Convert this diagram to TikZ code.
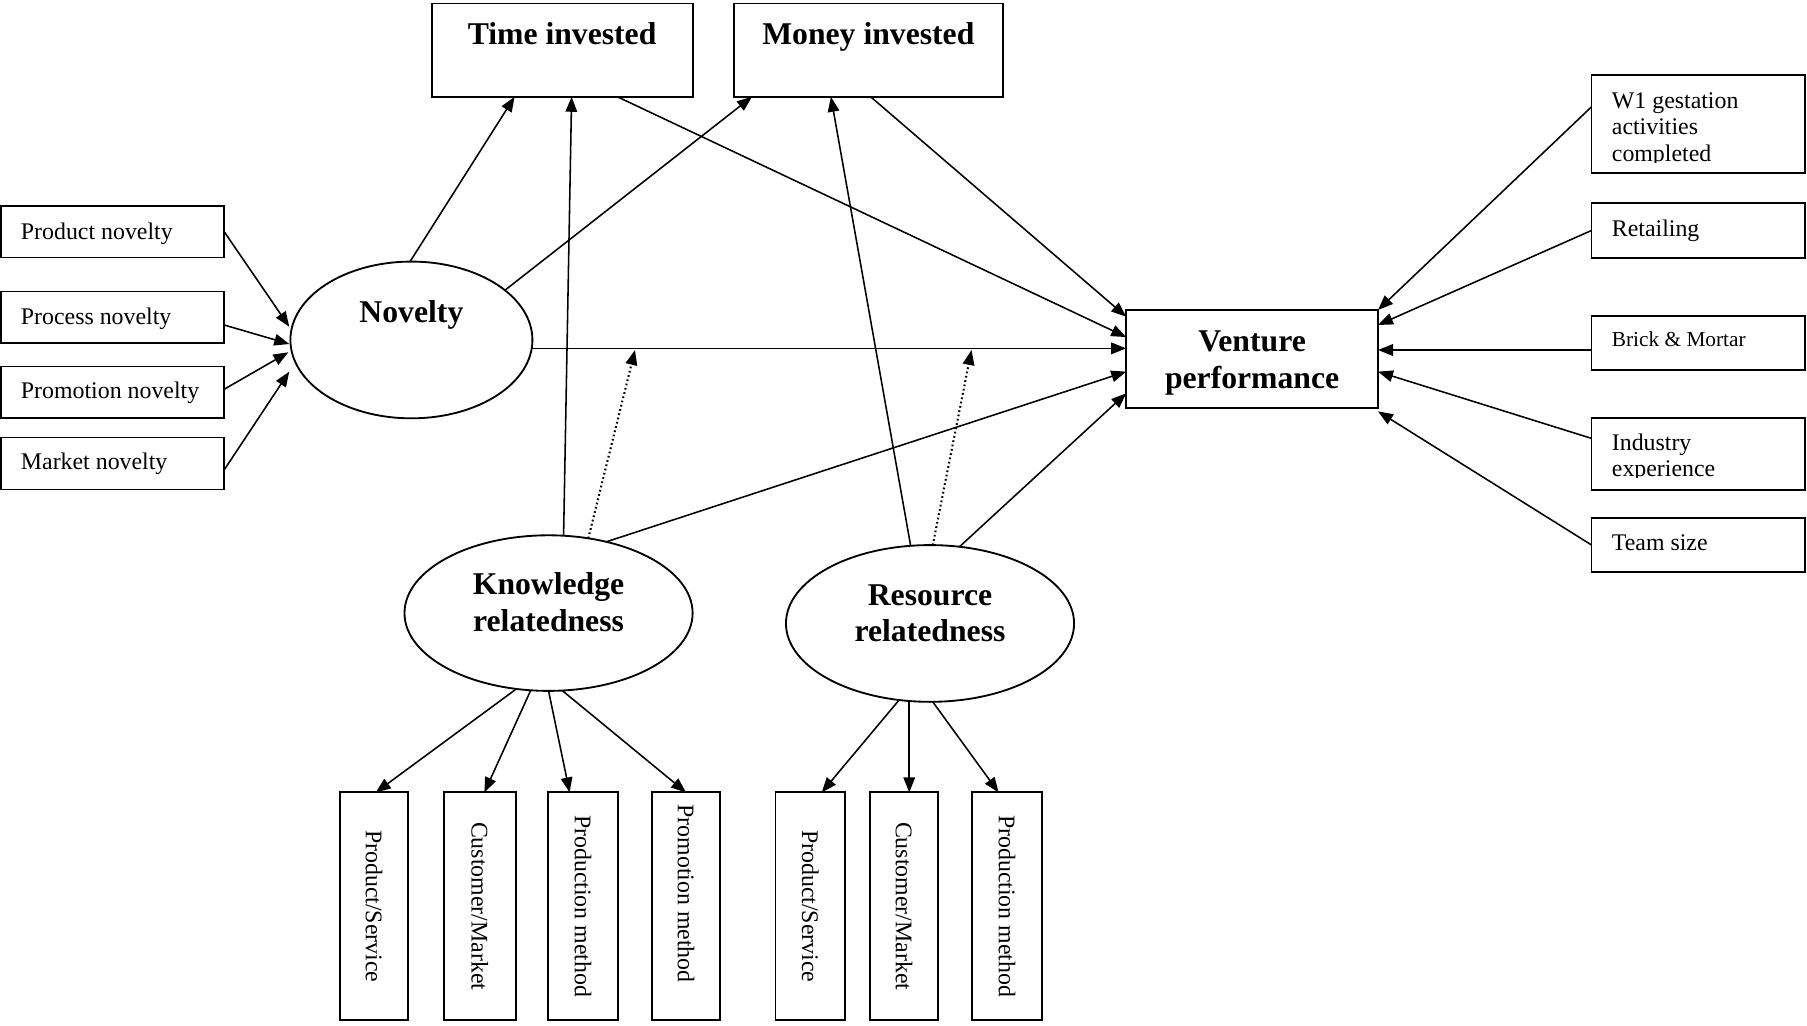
\documentclass[tikz,border=0pt]{standalone}
\usepackage{fontspec}
\setmainfont{Liberation Serif}
\usetikzlibrary{arrows.meta,calc,shapes.geometric}
\begin{document}
\begin{tikzpicture}[x=1pt,y=-1pt,
  every node/.style={inner sep=0pt, outer sep=0pt},
  box/.style={draw, line width=1.6pt, rectangle},
  oval/.style={draw, line width=1.6pt, ellipse},
  lbl/.style={font=\fontsize{20.7}{23.5}\selectfont, anchor=base west},
  small/.style={font=\fontsize{18.5}{21}\selectfont, anchor=base west},
  hd/.style={font=\bfseries\fontsize{27.5}{32}\selectfont, anchor=base},
  vlbl/.style={font=\fontsize{20.7}{23.5}\selectfont, rotate=-90},
  link/.style={line width=1.35pt, -{Triangle[length=13pt,width=10pt]}},
  moder/.style={link, line width=1.8pt, dash pattern=on 1.5pt off 2.3pt},
]
\useasboundingbox (0,0) rectangle (1568,890);

% ---- novelty indicators
\node[box, minimum width=193.8pt, minimum height=45pt] (prod) at (97.6,201) {};
\node[box, minimum width=193.8pt, minimum height=45pt] (proc) at (97.6,275.5) {};
\node[box, minimum width=193.8pt, minimum height=45pt] (prom) at (97.6,340.5) {};
\node[box, minimum width=193.8pt, minimum height=45pt] (mark) at (97.6,402.2) {};
\node[lbl] (prodT) at ($(prod.west)+(17.5,6.7)$) {Product novelty};
\node[lbl] (procT) at ($(proc.west)+(17.5,6.5)$) {Process novelty};
\node[lbl] (promT) at ($(prom.west)+(17.5,5.2)$) {Promotion novelty};
\node[lbl] (markT) at ($(mark.west)+(17.5,5.1)$) {Market novelty};

% ---- latent constructs
\node[oval, minimum width=210pt, minimum height=136pt] (nov) at (357,295) {};
\node[hd] (novT) at (357,280) {Novelty};
\node[oval, minimum width=250pt, minimum height=135pt] (know) at (476,532) {};
\node[hd] (knowT1) at (476,516) {Knowledge};
\node[hd] (knowT2) at (476,548) {relatedness};
\node[oval, minimum width=250pt, minimum height=136pt] (res) at (807,541) {};
\node[hd] (resT1) at (807,525) {Resource};
\node[hd] (resT2) at (807,557) {relatedness};

% ---- mediators and outcome
\node[box, minimum width=226.5pt, minimum height=81pt] (tinv) at (487.75,43.5) {};
\node[hd] (tinvT) at (487.75,39) {Time invested};
\node[box, minimum width=233pt, minimum height=81pt] (minv) at (753.5,43.5) {};
\node[hd] (minvT) at (753.5,39) {Money invested};
\node[box, minimum width=218.5pt, minimum height=85pt] (ven) at (1086.5,311.5) {};
\node[hd] (venT1) at (1086.5,305) {Venture};
\node[hd] (venT2) at (1086.5,337) {performance};

% ---- controls
\node[box, minimum width=185.5pt, minimum height=85.4pt] (w1) at (1473.75,107.7) {};
\node[box, minimum width=185.5pt, minimum height=47.2pt] (ret) at (1473.75,200) {};
\node[box, minimum width=185.5pt, minimum height=46.8pt] (brick) at (1473.75,297.6) {};
\node[box, minimum width=185.5pt, minimum height=62.2pt] (ind) at (1473.75,394.1) {};
\node[box, minimum width=185.5pt, minimum height=46.2pt] (team) at (1473.75,472.9) {};
\begin{scope}
  \clip ($(w1.north west)+(1,1)$) rectangle ($(w1.south east)+(-1,-9.5)$);
  \node[lbl] (w1T1) at ($(w1.west)+(17.7,-13.7)$) {W1 gestation};
  \node[lbl] (w1T2) at ($(w1.west)+(17.7,9.3)$) {activities};
  \node[lbl] (w1T3) at ($(w1.west)+(17.7,32.5)$) {completed};
\end{scope}
\node[lbl] (retT) at ($(ret.west)+(17.7,5.4)$) {Retailing};
\node[small] (brickT) at ($(brick.west)+(17.7,3.2)$) {Brick \& Mortar};
\begin{scope}
  \clip ($(ind.north west)+(1,1)$) rectangle ($(ind.south east)+(-1,-10.5)$);
  \node[lbl] (indT1) at ($(ind.west)+(17.7,-3.6)$) {Industry};
  \node[lbl] (indT2) at ($(ind.west)+(17.7,19.8)$) {experience};
\end{scope}
\node[lbl] (teamT) at ($(team.west)+(17.7,4.4)$) {Team size};

% ---- relatedness indicators
\node[box, minimum width=59.3pt, minimum height=197.5pt] (k1) at (324.55,786.35) {};
\node[box, minimum width=62.6pt, minimum height=197.5pt] (k2) at (416.3,786.35) {};
\node[box, minimum width=61pt, minimum height=197.5pt] (k3) at (506,786.35) {};
\node[box, minimum width=59.4pt, minimum height=197.5pt] (k4) at (595.3,786.35) {};
\node[box, minimum width=60.5pt, minimum height=197.5pt] (r1) at (703.15,786.35) {};
\node[box, minimum width=59.3pt, minimum height=197.5pt] (r2) at (784.45,786.35) {};
\node[box, minimum width=60.6pt, minimum height=197.5pt] (r3) at (873.9,786.35) {};
\node[vlbl] (k1T) at (k1.center) {Product/Service};
\node[vlbl] (k2T) at (k2.center) {Customer/Market};
\node[vlbl] (k3T) at (k3.center) {Production method};
\node[vlbl] (k4T) at ($(k4.center)+(0,-11)$) {Promotion method};
\node[vlbl] (r1T) at (r1.center) {Product/Service};
\node[vlbl] (r2T) at (r2.center) {Customer/Market};
\node[vlbl] (r3T) at (r3.center) {Production method};

% ---- indicators into novelty
\draw[link] (prod.east) -- ($(nov.west)+(-1,-11.5)$);
\draw[link] ($(proc.east)+(0,6.5)$) -- ($(nov.west)+(-1,3.5)$);
\draw[link] ($(prom.east)+(0,-2.7)$) -- ($(nov.west)+(-1.8,10.7)$);
\draw[link] ($(mark.east)+(0,5.6)$) -- ($(nov.west)+(-1,27.5)$);

% ---- novelty paths
\draw[link] (nov.91) -- ($(tinv.south)+(-41.2,0)$);
\draw[link] (nov.28.5) -- ($(minv.south west)+(15.5,0)$);
\draw[link] (nov.-4.8) -- (nov.-4.8 -| ven.west);

% ---- mediators to outcome
\draw[link] ($(tinv.south)+(48,0)$) -- ($(ven.west)+(0,-19)$);
\draw[link] ($(minv.south)+(2,0)$) -- ($(ven.north west)+(0,5.8)$);

% ---- knowledge relatedness paths
\draw[link] (know.79.6) -- ($(tinv.south)+(8.25,0)$);
\coordinate (mk) at (551,303.7);
\draw[moder] (know.62) -- (mk);
\draw[link] (know.51.7) -- ($(ven.west)+(0,11)$);

% ---- resource relatedness paths
\draw[link] (res.104.4) -- ($(minv.south)+(-32.5,0)$);
\coordinate (mr) at (843,303.7);
\draw[moder] (res.88) -- (mr);
\draw[link] (res.69) -- ($(ven.west)+(0,29.8)$);

% ---- controls to outcome
\draw[link] ($(w1.west)+(0,-15)$) -- (ven.north east);
\draw[link] (ret.west) -- ($(ven.north east)+(0,13)$);
\draw[link] ($(brick.west)+(0,6.1)$) -- ($(ven.east)+(0,-7.8)$);
\draw[link] ($(ind.west)+(0,-13.7)$) -- ($(ven.east)+(0,11)$);
\draw[link] (team.west) -- ($(ven.south east)+(0,3)$);

% ---- relatedness to indicators
\draw[link] (know.247.3) -- ($(k1.north)+(1.5,0)$);
\draw[link] (know.257.8) -- ($(k2.north)+(4,0)$);
\draw[link] (know.270) -- ($(k3.north)+(-11.7,0)$);
\draw[link] (know.280.2) -- (k4.north);
\draw[link] (res.248.2) -- ($(r1.north)+(9.9,0)$);
\draw[link] (res.255.8) -- (res.255.8 |- r2.north);
\draw[link] (res.272.4) -- ($(r3.north)+(-7.4,0)$);
\end{tikzpicture}
\end{document}
